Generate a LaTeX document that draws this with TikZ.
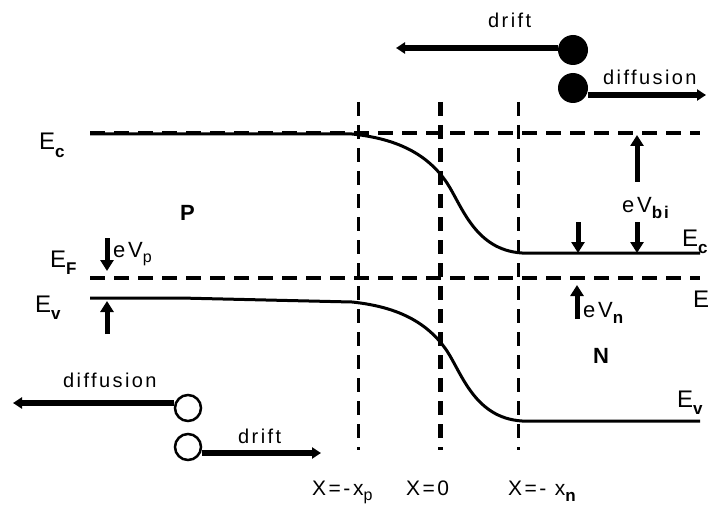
\documentclass[tikz,border=0pt]{standalone}
\usepackage{fontspec}
\setmainfont{Liberation Sans}[LetterSpace=12]
\usetikzlibrary{arrows.meta}
\tikzset{
 band/.style={line width=3pt},
 level/.style={line width=4pt, dash pattern=on 15pt off 9pt},
 junc/.style={line width=3pt, dash pattern=on 14pt off 9pt},
 juncmid/.style={line width=5pt, dash pattern=on 14pt off 9pt},
 arr/.style={line width=5pt, -{Triangle[length=11pt,width=13pt]}},
 flow/.style={line width=5.5pt, -{Triangle[length=9pt,width=11pt]}},
 lbl/.style={inner sep=0pt, anchor=base west, font=\fontsize{20}{24}\selectfont},
 xlbl/.style={inner sep=0pt, anchor=base west, font=\fontsize{21}{24}\selectfont},
 elbl/.style={inner sep=0pt, anchor=base west, font=\fontsize{24}{28}\selectfont},
 vlbl/.style={inner sep=0pt, anchor=base west, font=\fontsize{22}{26}\selectfont},
 reg/.style={inner sep=0pt, anchor=base west, font=\fontsize{22}{26}\selectfont\bfseries},
 electron/.style={circle, fill=black, minimum size=30pt, inner sep=0pt},
 hole/.style={circle, draw=black, line width=2.5pt, minimum size=26pt, inner sep=0pt},
}
\newcommand\bsub[1]{\raisebox{-0.3em}{\fontsize{17}{17}\selectfont\bfseries #1}}
\newcommand\nsub[1]{\raisebox{-0.25em}{\fontsize{16}{16}\selectfont #1}}
\begin{document}
\begin{tikzpicture}[x=1pt,y=-1pt]
\useasboundingbox (0,0) rectangle (710,508);
% energy levels (dashed)
\draw[level] (90,133) -- (700,133);
\draw[level] (90,278) -- (700,278);
% junction boundaries
\draw[junc] (358,102) -- (358,450);
\draw[juncmid] (440,102) -- (440,450);
\draw[junc] (518,102) -- (518,450);
% bands
\draw[band] (90,134) -- (352,134) .. controls (390,138) and (425,150) .. (447,183)
  .. controls (462,206) and (475,250) .. (522,253) -- (700,253);
\draw[band] (90,298) -- (180,298) -- (352,302) .. controls (390,306) and (425,318) .. (447,351)
  .. controls (462,374) and (475,418) .. (522,421) -- (700,421);
% labels of levels
\node[elbl] (EcL) at (39,150) {E\bsub{c}};
\node[elbl] (EfL) at (50,267) {E\bsub{F}};
\node[elbl] (EvL) at (35,312) {E\bsub{v}};
\node[elbl] (EcR) at (682,246) {E\bsub{c}};
\node[elbl] (EfR) at (693,307) {E};
\node[elbl] (EvR) at (677,407) {E\bsub{v}};
\node[reg] (P) at (180,220) {P};
\node[reg] (N) at (593,363) {N};
% potential arrows
\coordinate (p1) at (107,238); \coordinate (p2) at (107,271);
\coordinate (p3) at (107,334); \coordinate (p4) at (107,301);
\draw[arr] (p1) -- (p2);
\draw[arr] (p3) -- (p4);
\node[vlbl] (eVp) at (113,257) {eV\nsub{p}};
\coordinate (b1) at (578,222); \coordinate (b2) at (578,253);
\coordinate (b3) at (637,222); \coordinate (b4) at (637,253);
\coordinate (b5) at (637,182); \coordinate (b6) at (637,135);
\draw[arr] (b1) -- (b2);
\draw[arr] (b3) -- (b4);
\draw[arr] (b5) -- (b6);
\node[vlbl] (eVbi) at (622,212) {eV\bsub{bi}};
\coordinate (n1) at (577,319); \coordinate (n2) at (577,285);
\draw[arr] (n1) -- (n2);
\node[vlbl] (eVn) at (583,317) {eV\bsub{n}};
% position labels
\node[xlbl] (xp) at (312,495) {X=-x\nsub{p}};
\node[xlbl] (x0) at (406,495) {X=0};
\node[xlbl] (xn) at (508,495) {X=- x\bsub{n}};
% carriers
\node[electron] (e1) at (573,50) {};
\node[electron] (e2) at (573,88) {};
\coordinate (e1end) at (396,48);
\coordinate (e2end) at (706,95);
\draw[flow] (e1.west |- e1end) -- (e1end);
\draw[flow] (e2.east |- e2end) -- (e2end);
\node[lbl] (driftT) at (488,28) {drift};
\node[lbl] (diffT) at (603,85) {diffusion};
\node[hole] (h1) at (188,408) {};
\node[hole] (h2) at (188,447) {};
\coordinate (h1end) at (13,403);
\coordinate (h2end) at (321,453);
\draw[flow] (h1.west |- h1end) -- (h1end);
\draw[flow] (h2.east |- h2end) -- (h2end);
\node[lbl] (diffB) at (63,387) {diffusion};
\node[lbl] (driftB) at (238,443) {drift};
\end{tikzpicture}
\end{document}
